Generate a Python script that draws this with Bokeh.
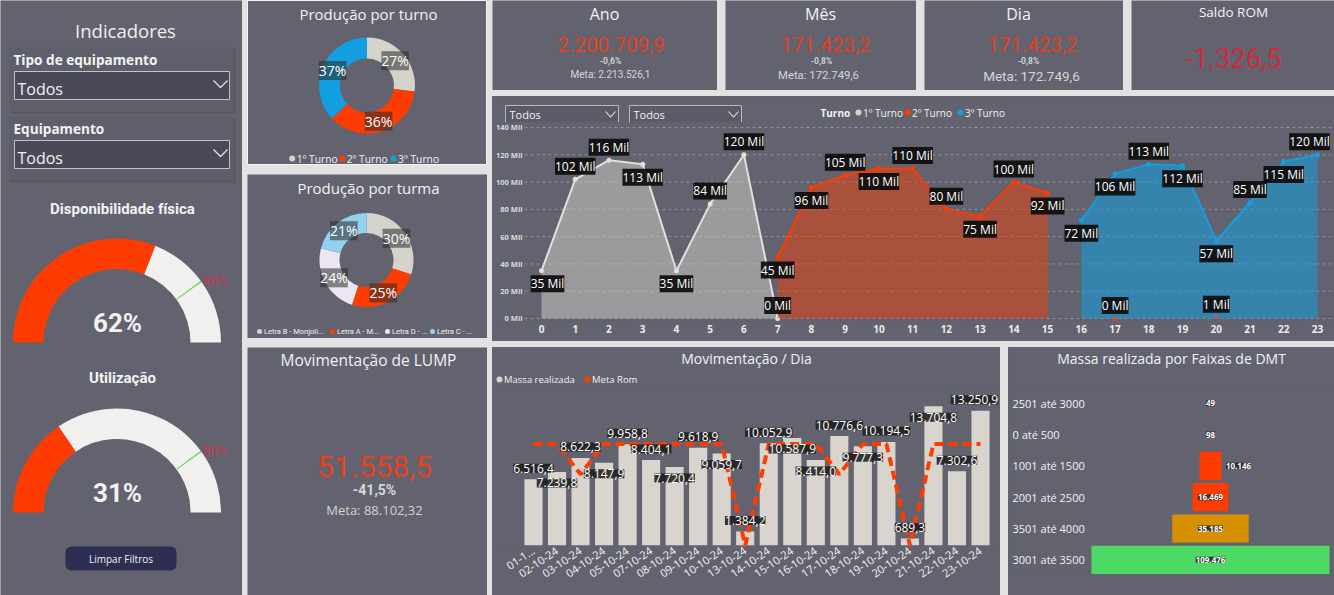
import math
from bokeh.plotting import figure
from bokeh.layouts import row, column
from bokeh.models import (Range1d, ColumnDataSource, LabelSet, FixedTicker,
                          FactorRange, Quad)
from bokeh.core.properties import value
from bokeh.embed import file_html
from bokeh.resources import INLINE

# ---------------- data ----------------
slicer_labels = ["Tipo de equipamento", "Equipamento"]
slicer_choice = ["Todos", "Todos"]
gauge_titles = ["Disponibilidade física", "Utilização"]
gauge_values = [62, 31]
gauge_targets = [80, 80]
button_label = "Limpar Filtros"

turno_names = ["1º Turno", "2º Turno", "3º Turno"]
turno_share = [27, 36, 37]
turma_names = ["Letra B - Monjoli...", "Letra A - M...", "Letra D - ...", "Letra C - ..."]
turma_share = [30, 25, 24, 21]

kpi_titles = ["Ano", "Mês", "Dia"]
kpi_values = [2200709.9, 171423.2, 171423.2]
kpi_var = [-0.6, -0.8, -0.8]
kpi_meta = [2213526.1, 172749.6, 172749.6]
saldo_title = "Saldo ROM"
saldo_value = -1326.5

lump_title = "Movimentação de LUMP"
lump_value = 51558.5
lump_var = -41.5
lump_meta = 88102.32

hours = list(range(24))
mil_ticks = [0, 20, 40, 60, 80, 100, 120, 140]
turno1_hours = [0, 1, 2, 3, 4, 5, 6, 7]
turno1_mil = [35, 102, 116, 113, 35, 84, 120, 0]
turno2_hours = [7, 8, 9, 10, 11, 12, 13, 14, 15, 17, 20]
turno2_mil = [45, 96, 105, 110, 110, 80, 75, 100, 92, 0, 1]
turno3_hours = [16, 17, 18, 19, 20, 21, 22, 23]
turno3_mil = [72, 106, 113, 112, 57, 85, 115, 120]

dias = ["01-1...", "02-10-24", "03-10-24", "04-10-24", "05-10-24", "07-10-24",
        "08-10-24", "09-10-24", "10-10-24", "13-10-24", "14-10-24", "15-10-24",
        "16-10-24", "17-10-24", "18-10-24", "19-10-24", "20-10-24", "21-10-24",
        "22-10-24", "23-10-24"]
massa_realizada = [6516.4, 7239.8, 8622.3, 8147.9, 9958.8, 8404.1, 7720.4, 9618.9,
                   9059.7, 1384.2, 10052.9, 10587.9, 8414.0, 10776.6, 9777.3, 10194.5,
                   689.3, 13704.8, 7302.6, 13250.9]
meta_rom = [10000, 10000, 7000, 10000, 10000, 10000, 10000, 10000, 10000, 0,
            10000, 10000, 10000, 7000, 10000, 10000, 0, 10000, 10000, 10000]

dmt_faixas = ["2501 até 3000", "0 até 500", "1001 até 1500", "2001 até 2500",
              "3501 até 4000", "3001 até 3500"]
dmt_massa = [49, 98, 10146, 16469, 35185, 109476]

# ---------------- styles ----------------
PANEL = "#63636f"
GAP = "#e2e2e2"
TXT = "#f2f2f2"
RED = "#fe3b00"
BLUE = "#129ee1"
GREY1 = "#d6d2cc"
LIGHT = "#f2f0ee"
FONT = "Open Sans"
NUM = "Roboto"
turno_colors = [GREY1, RED, BLUE]
turma_colors = [GREY1, RED, "#ebe6f2", "#93d1ee"]
dmt_colors = [RED, RED, RED, RED, "#d69000", "#4cd964"]
t1_pos = [-1, 1, 1, -1, -1, 1, 1, 1]
t2_pos = [-1, -1, 1, -1, 1, 1, -1, 1, -1, 1, 1]
t3_pos = [-1, -1, 1, -1, -1, 1, -1, 1]
t1_dx = [6, 0, 0, 0, 0, 0, 0, 0]
t2_dx = [0] * 11
t3_dx = [0, 0, 0, 0, 0, 0, 0, -8]
dia_pos = [1, -1, 1, -1, 1, 1, -1, 1, -1, 1, 1, -1, -1, 1, -1, 1, 1, -1, 1, 1]
dia_dx = [0] * 19 + [-6]
dmt_dx = [0, 0, 28, 0, 0, 0]


def br(v, d=1):
    s = f"{v:,.{d}f}"
    return s.replace(",", "§").replace(".", ",").replace("§", ".")


LS_PROPS = LabelSet.properties()
Q_PROPS = Quad.properties()


def labelset(src, size, bg, alpha, style="normal", pad=2, **kw):
    extra = {}
    if "padding" in LS_PROPS:
        extra["padding"] = pad
    if "border_radius" in LS_PROPS:
        extra["border_radius"] = 2
    return LabelSet(source=src, text_font=value(FONT), text_font_size=f"{size}px",
                    text_color="#ffffff", text_font_style=style, text_align="center",
                    text_baseline="middle", background_fill_color=bg,
                    background_fill_alpha=alpha, **extra, **kw)


def style_panel(p):
    p.background_fill_color = PANEL
    p.border_fill_color = PANEL
    p.outline_line_color = None


def bare_axis(ax, size, color, bold=False, standoff=3):
    ax.axis_line_color = None
    ax.major_tick_line_color = None
    ax.minor_tick_line_color = None
    ax.major_tick_out = 0
    ax.major_tick_in = 0
    ax.minor_tick_out = 0
    ax.major_label_text_font = FONT
    ax.major_label_text_font_size = f"{size}px"
    ax.major_label_text_color = color
    ax.major_label_standoff = standoff
    if bold:
        ax.major_label_text_font_style = "bold"


class Canvas:
    """A plain panel whose units are its own pixels, y measured downwards."""
    def __init__(self, w, h, outline=None):
        self.w, self.h = w, h
        p = figure(width=w, height=h, x_range=Range1d(0, w), y_range=Range1d(0, h),
                   x_axis_type=None, y_axis_type=None, output_backend="svg",
                   toolbar_location=None, tools="", min_border=0)
        p.min_border_left = p.min_border_right = p.min_border_top = p.min_border_bottom = 0
        style_panel(p)
        p.outline_line_color = outline
        p.grid.visible = False
        self.p = p

    def Y(self, y):
        return self.h - y

    def text(self, x, y, s, size, color=TXT, font=FONT, style="normal",
             align="center", baseline="middle"):
        self.p.text(x=[x], y=[self.Y(y)], text=[s], text_font=value(font),
                    text_font_size=f"{size}px", text_color=color,
                    text_font_style=style, text_align=align, text_baseline=baseline)

    def box(self, x0, y0, x1, y1, fill, line=None, lw=1, radius=None):
        kw = {}
        if radius and "border_radius" in Q_PROPS:
            kw["border_radius"] = radius
        self.p.quad(left=[x0], right=[x1], top=[self.Y(y0)], bottom=[self.Y(y1)],
                    fill_color=fill, line_color=line, line_width=lw, **kw)

    def poly(self, xs, ys, color, width=1.0):
        self.p.line(xs, [self.Y(y) for y in ys], line_color=color, line_width=width)

    def dot(self, x, y, color, size=6):
        self.p.scatter([x], [self.Y(y)], size=size, fill_color=color, line_color=None)

    def legend(self, xs, y, names, colors, size, dot=6, font=FONT):
        for xd, name, col in zip(xs, names, colors):
            self.dot(xd, y, col, dot)
            self.text(xd + 4.5, y, name, size, align="left", font=font)


def gauge(c, cx, cy, ro, ri, v, tgt):
    X, Y = cx, c.Y(cy)
    a = math.pi * (1 - v / 100)
    c.p.annular_wedge(x=[X], y=[Y], inner_radius=ri, outer_radius=ro, start_angle=0,
                      end_angle=a, fill_color=LIGHT, line_color=None)
    c.p.annular_wedge(x=[X], y=[Y], inner_radius=ri, outer_radius=ro, start_angle=a,
                      end_angle=math.pi, fill_color=RED, line_color=None)
    t = math.pi * (1 - tgt / 100)
    c.p.annular_wedge(x=[X], y=[Y], inner_radius=ri, outer_radius=ro,
                      start_angle=t - 0.006, end_angle=t + 0.006,
                      fill_color="#5fd35f", line_color=None)
    c.p.text(x=[X + (ro + 2) * math.cos(t)], y=[Y + ro * math.sin(t) + 1],
             text=[f"{tgt}%"], text_font=value(NUM), text_font_size="13.5px",
             text_color="#c8354f", text_align="left", text_baseline="alphabetic")


def donut(c, cx, cy, ro, ri, shares, colors):
    total = sum(shares)
    starts, ends, lx, ly, labs = [], [], [], [], []
    cum = 0
    rm = (ro + ri) / 2
    for s in shares:
        a0 = math.pi / 2 - 2 * math.pi * cum / total
        cum += s
        a1 = math.pi / 2 - 2 * math.pi * cum / total
        starts.append(a0)
        ends.append(a1)
        m = (a0 + a1) / 2
        lx.append(cx + rm * math.cos(m))
        ly.append(c.Y(cy) + rm * math.sin(m))
        labs.append(f"{s}%")
    src = ColumnDataSource(dict(start=starts, end=ends, color=colors))
    c.p.annular_wedge(x=cx, y=c.Y(cy), inner_radius=ri, outer_radius=ro,
                      start_angle="start", end_angle="end", direction="clock",
                      fill_color="color", line_color=None, source=src)
    lsrc = ColumnDataSource(dict(x=lx, y=ly, t=labs))
    c.p.add_layout(labelset(lsrc, 14, "#2a2a2a", 0.55, x="x", y="y", text="t"))


# ---------------- left panel ----------------
left = Canvas(242, 595)
left.text(125, 30, "Indicadores", 18.5, color="#efefef")
for lab, choice, y0 in zip(slicer_labels, slicer_choice, [47, 116]):
    left.box(11, y0 + 2, 235, y0 + 66, "#58585f")
    left.box(9, y0, 233, y0 + 64, "#5f5f6b")
    left.text(13, y0 + 12, lab, 13.6, style="bold", align="left")
    left.box(14, y0 + 24, 229, y0 + 52, "#4a4958", line="#c2c2c8")
    left.text(17, y0 + 41, choice, 16, align="left")
    left.poly([213, 220, 227], [y0 + 33, y0 + 40, y0 + 33], "#e8e8e8", 1.2)

for title, v, tgt, ty, cy in zip(gauge_titles, gauge_values, gauge_targets,
                                 [208, 377], [342, 512]):
    left.text(122, ty, title, 15, style="bold", font=NUM)
    gauge(left, 116.5, cy, 104, 73.5, v, tgt)
    left.text(117, cy - 20, f"{v}%", 26, font=NUM, style="bold")

left.box(65, 546, 176, 570, "#2c2f52", radius=6)
left.text(120.5, 558, button_label, 10)

# ---------------- donut panels ----------------
tt = Canvas(240, 165, outline="#f4f4f4")
tt.text(121, 13, "Produção por turno", 15)
donut(tt, 119.5, 85, 48, 27, turno_share, turno_colors)
tt.legend([44.7, 94.7, 146], 158, turno_names, turno_colors, 10.3)

tm = Canvas(240, 164)
tm.text(121, 13, "Produção por turma", 15)
donut(tm, 119, 85.5, 47, 27, turma_share, turma_colors)
tm.legend([12, 85, 140, 185], 157, turma_names, turma_colors, 7.5, dot=5, font=NUM)

# ---------------- LUMP ----------------
lp = Canvas(240, 248)
lp.text(121, 12, lump_title, 15.5)
lp.text(127, 119, br(lump_value), 30, color="#e8411c", font=NUM)
lp.text(127, 142, br(lump_var) + "%", 14, color="#d7d7d7", font=NUM, style="bold")
lp.text(127, 162, "Meta: " + br(lump_meta, 2), 13, color="#d2d2d2")

# ---------------- KPI cards ----------------
kpi_w = [225, 191, 199]
title_x = [112, 95, 94]
val_x = [118.5, 100, 108]
var_x = [118, 96, 104]
meta_x = [118, 93, 107]
meta_y = [73.5, 75, 75]
meta_size = [10, 11.3, 13.5]
cards = []
for i in range(3):
    c = Canvas(kpi_w[i], 90)
    c.text(title_x[i], 13, kpi_titles[i], 16)
    c.text(val_x[i], 44, br(kpi_values[i]), 20.5, color="#e2401d", font=NUM)
    c.text(var_x[i], 60, br(kpi_var[i]) + "%", 8.5, color="#d0d0d0", font=NUM, style="bold")
    c.text(meta_x[i], meta_y[i], "Meta: " + br(kpi_meta[i]), meta_size[i],
           color="#d6d6d6", font=NUM)
    cards.append(c.p)
sd = Canvas(203, 90)
sd.text(102, 11, saldo_title, 13.5)
sd.text(102, 57, br(saldo_value), 27, color="#d2283e", font=NUM)
cards.append(sd.p)

# ---------------- main area chart ----------------
mh = Canvas(842, 26)
for x0, x1 in [(13, 126), (137, 249)]:
    mh.box(x0, 9, x1, 26, "#5b5b67", line="#b9b9c0")
    mh.text(x0 + 4, 18, "Todos", 11, align="left")
    mh.poly([x1 - 13, x1 - 8, x1 - 3], [15, 20.5, 15], "#e8e8e8", 1.1)
mh.text(328, 16, "Turno", 10, style="bold", align="left")
mh.legend([366, 415, 468], 16, turno_names, turno_colors, 10)

PX_HR = 33.74
mc = figure(width=842, height=219, x_range=Range1d(-49 / PX_HR, 23 + 17 / PX_HR),
            y_range=Range1d(-2.2, 143.66), y_axis_type=None, output_backend="svg",
            toolbar_location=None, tools="",
            min_border_left=0, min_border_right=0, min_border_top=0, min_border_bottom=20)
style_panel(mc)
mc.grid.visible = False
mc.xaxis.ticker = FixedTicker(ticks=hours)
bare_axis(mc.xaxis, 10, "#ececec", bold=True, standoff=3)
grid_x0 = mc.x_range.start + 32 / PX_HR
mc.segment(x0=[grid_x0] * len(mil_ticks), x1=[mc.x_range.end] * len(mil_ticks),
           y0=mil_ticks, y1=mil_ticks, line_color="#8f8f99", line_dash="3 3", line_width=1)
mc.text(x=[mc.x_range.start] * len(mil_ticks), y=mil_ticks,
        text=[f"{t} Mil" for t in mil_ticks], x_offset=30, text_font=value(FONT),
        text_font_size="7.5px", text_font_style="bold", text_color="#dcdcdc",
        text_align="right", text_baseline="middle")

series = [(turno1_hours, turno1_mil, "#e2e0dc", GREY1, 0.5, t1_pos, t1_dx),
          (turno2_hours, turno2_mil, RED, RED, 0.45, t2_pos, t2_dx),
          (turno3_hours, turno3_mil, BLUE, BLUE, 0.55, t3_pos, t3_dx)]
label_sets = []
for hrs, vals, lcol, fcol, alpha, pos, dx in series:
    runs, cur = [], [0]
    for i in range(1, len(hrs)):
        if hrs[i] - hrs[i - 1] == 1:
            cur.append(i)
        else:
            runs.append(cur)
            cur = [i]
    runs.append(cur)
    for run in runs:
        xs = [hrs[i] for i in run]
        ys = [vals[i] for i in run]
        if len(run) > 1:
            mc.varea(x=xs, y1=0, y2=ys, fill_color=fcol, fill_alpha=alpha)
            mc.line(xs, ys, line_color=lcol, line_width=2)
    mc.scatter(hrs, vals, size=5, fill_color=lcol, line_color=None)
    src = ColumnDataSource(dict(x=hrs, y=vals, t=[f"{v} Mil" for v in vals],
                                yo=[13 * p for p in pos], xo=dx))
    label_sets.append(labelset(src, 12, "#0c0c0c", 0.92, x="x", y="y", text="t",
                               x_offset="xo", y_offset="yo"))
for ls in label_sets:
    mc.add_layout(ls)

# ---------------- Movimentação / Dia ----------------
dh = Canvas(508, 40)
dh.text(254, 11, "Movimentação / Dia", 14)
dh.legend([7, 95], 32, ["Massa realizada", "Meta Rom"], [GREY1, RED], 9.5)

idx = list(range(len(dias)))
dc = figure(width=508, height=208, x_range=Range1d(-1.742, 19.85), y_range=Range1d(0, 15550),
            y_axis_type=None, output_backend="svg", toolbar_location=None, tools="",
            min_border_left=0, min_border_right=0, min_border_top=0, min_border_bottom=50)
style_panel(dc)
dc.grid.visible = False
dc.vbar(x=idx, top=massa_realizada, width=0.77, fill_color="#d9d5ce", line_color=None)
dc.line(x=idx, y=meta_rom, line_color=RED, line_width=4, line_dash="9 5")
dsrc = ColumnDataSource(dict(x=idx, y=massa_realizada,
                             t=[br(v) for v in massa_realizada],
                             yo=[11 * p for p in dia_pos], xo=dia_dx))
dc.add_layout(labelset(dsrc, 12, "#1e1e1e", 0.88, x="x", y="y", text="t",
                       y_offset="yo", x_offset="xo"))
dc.xaxis.ticker = FixedTicker(ticks=idx)
dc.xaxis.major_label_overrides = {i: d for i, d in zip(idx, dias)}
bare_axis(dc.xaxis, 11, "#f4f4f4", standoff=4)
dc.xaxis.major_label_orientation = 0.6

# ---------------- Massa por Faixas de DMT ----------------
kh = Canvas(326, 40)
kh.text(163, 11, "Massa realizada por Faixas de DMT", 14)

vmax = max(dmt_massa)
CENTER_PX, FULL_PX, KW = 202, 238, 326
upp = vmax / FULL_PX
kc = figure(width=KW, height=208, x_range=Range1d(-CENTER_PX * upp, (KW - CENTER_PX) * upp),
            y_range=FactorRange(*reversed(dmt_faixas)), x_axis_type=None,
            y_axis_type=None, output_backend="svg", toolbar_location=None, tools="",
            min_border_left=0, min_border_right=0, min_border_top=0, min_border_bottom=20)
style_panel(kc)
kc.grid.visible = False
kc.hbar(y=dmt_faixas, left=[-v / 2 for v in dmt_massa], right=[v / 2 for v in dmt_massa],
        height=0.9, fill_color=dmt_colors, line_color=None)
kc.text(x=[kc.x_range.start] * len(dmt_faixas), y=dmt_faixas, text=dmt_faixas,
        x_offset=4, text_font=value(FONT), text_font_size="11px", text_color=TXT,
        text_align="left", text_baseline="middle")
ksrc = ColumnDataSource(dict(x=[0] * len(dmt_faixas), y=dmt_faixas,
                             t=[br(v, 0) for v in dmt_massa], xo=dmt_dx))
kc.add_layout(labelset(ksrc, 8, "#242424", 0.85, style="bold", x="x", y="y", text="t",
                       x_offset="xo"))

# ---------------- layout ----------------
PANEL_BG = {"background-color": PANEL}
colB = column(tt.p, tm.p, lp.p, spacing=9)
kpis = row(*cards, spacing=8)
main = column(mh.p, mc, spacing=0, styles=PANEL_BG)
bottom = row(column(dh.p, dc, spacing=0, styles=PANEL_BG),
             column(kh.p, kc, spacing=0, styles=PANEL_BG), spacing=8)
right = column(kpis, main, bottom, spacing=6)
root = row(left.p, colB, right, spacing=5, styles={"background-color": GAP})

open("out.html", "w").write(file_html(root, INLINE))
